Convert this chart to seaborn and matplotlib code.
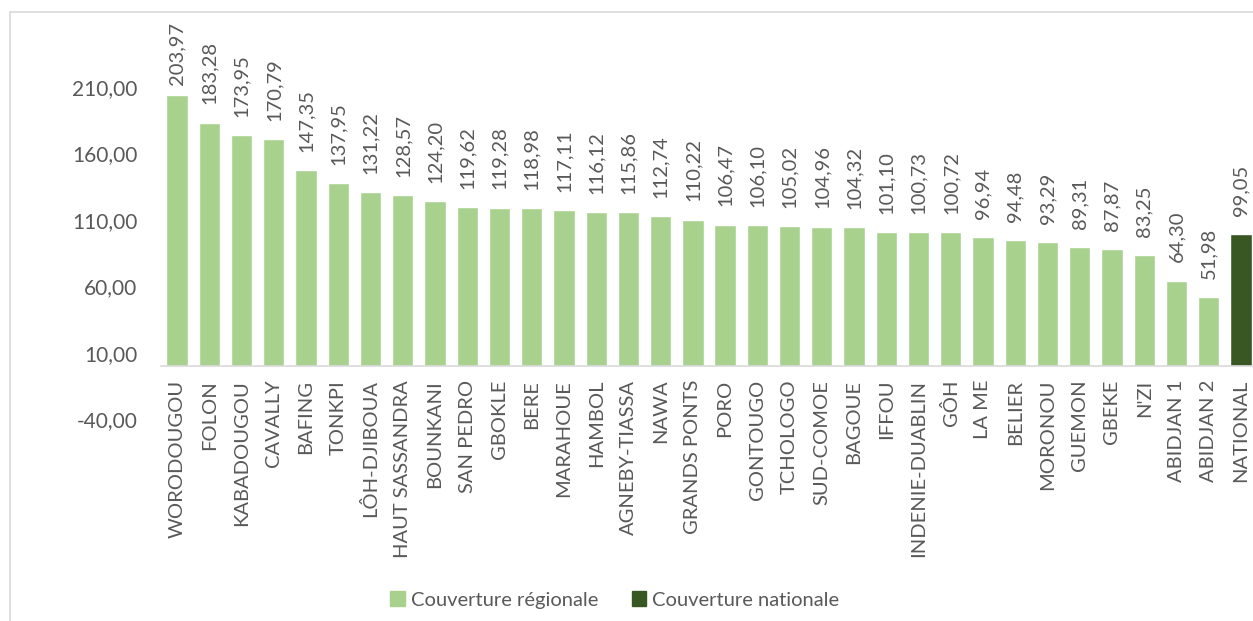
import pandas as pd
import matplotlib.pyplot as plt
import seaborn as sns
from matplotlib.patches import Patch, Rectangle

# couverture par region
regions = ['WORODOUGOU', 'FOLON', 'KABADOUGOU', 'CAVALLY', 'BAFING', 'TONKPI',
           'LÔH-DJIBOUA', 'HAUT SASSANDRA', 'BOUNKANI', 'SAN PEDRO', 'GBOKLE',
           'BERE', 'MARAHOUE', 'HAMBOL', 'AGNEBY-TIASSA', 'NAWA', 'GRANDS PONTS',
           'PORO', 'GONTOUGO', 'TCHOLOGO', 'SUD-COMOE', 'BAGOUE', 'IFFOU',
           'INDENIE-DUABLIN', 'GÔH', 'LA ME', 'BELIER', 'MORONOU', 'GUEMON',
           'GBEKE', "N'ZI", 'ABIDJAN 1', 'ABIDJAN 2', 'NATIONAL']
valeurs = [203.97, 183.28, 173.95, 170.79, 147.35, 137.95, 131.22, 128.57,
           124.20, 119.62, 119.28, 118.98, 117.11, 116.12, 115.86, 112.74,
           110.22, 106.47, 106.10, 105.02, 104.96, 104.32, 101.10, 100.73,
           100.72, 96.94, 94.48, 93.29, 89.31, 87.87, 83.25, 64.30, 51.98,
           99.05]
types = ['Couverture régionale'] * 33 + ['Couverture nationale']
yticks = [-40, 10, 60, 110, 160, 210]

couleurs = {'Couverture régionale': '#A9D18E', 'Couverture nationale': '#385723'}
gris = '#595959'

df = pd.DataFrame({'region': regions, 'valeur': valeurs, 'type': types})

sns.set_style('white')
plt.rcParams['font.family'] = ['Lato', 'DejaVu Sans']

fig = plt.figure(figsize=(12.53, 6.21), dpi=100)
W, H = 1253, 621
ax = fig.add_axes([161 / W, (H - 419) / H, 1096 / W, (419 - 22) / H])

sns.barplot(data=df, x='region', y='valeur', hue='type', palette=couleurs,
            dodge=False, width=0.66, legend=False, ax=ax, saturation=1)

ymax = 259
ax.set_ylim(-40, ymax)
ax.set_xlim(-0.5, len(regions) - 0.5)
ax.set_yticks(yticks)
ax.set_yticklabels([f'{t:.2f}'.replace('.', ',') for t in yticks])
ax.tick_params(axis='y', length=0, pad=17, labelsize=15, labelcolor=gris)
ax.tick_params(axis='x', length=0, pad=10, labelsize=14.5, labelcolor=gris,
               labelrotation=90)
ax.set_xlabel('')
ax.set_ylabel('')

for s in ['left', 'right', 'top']:
    ax.spines[s].set_visible(False)
ax.spines['bottom'].set_position(('data', 0))
ax.spines['bottom'].set_color('#D9D9D9')
ax.spines['bottom'].set_linewidth(1.2)

# etiquettes de valeur
for i, v in enumerate(valeurs):
    lab = f'{v:.2f}'.replace('.', ',')
    if v > 198:
        ax.text(i, ymax, lab, rotation=90, ha='center', va='top',
                fontsize=14.5, color=gris)
    else:
        ax.annotate(lab, (i, v), xytext=(0, 13), textcoords='offset points',
                    rotation=90, ha='center', va='bottom', fontsize=14.5,
                    color=gris)

handles = [Patch(color=couleurs[k], label=k) for k in couleurs]
fig.legend(handles=handles, loc='center', bbox_to_anchor=(615 / W, 1 - 600 / H),
           ncol=2, frameon=False, fontsize=14.5, labelcolor=gris,
           handlelength=0.7, handleheight=0.7, handletextpad=0.3,
           columnspacing=1.7)

# cadre du graphique
fig.patches.append(Rectangle((10 / W, -0.05), 1.1, 1 - 12 / H + 0.05,
                             transform=fig.transFigure, fill=False,
                             edgecolor='#D9D9D9', linewidth=1.2))

fig.savefig('out.png', dpi=100)
